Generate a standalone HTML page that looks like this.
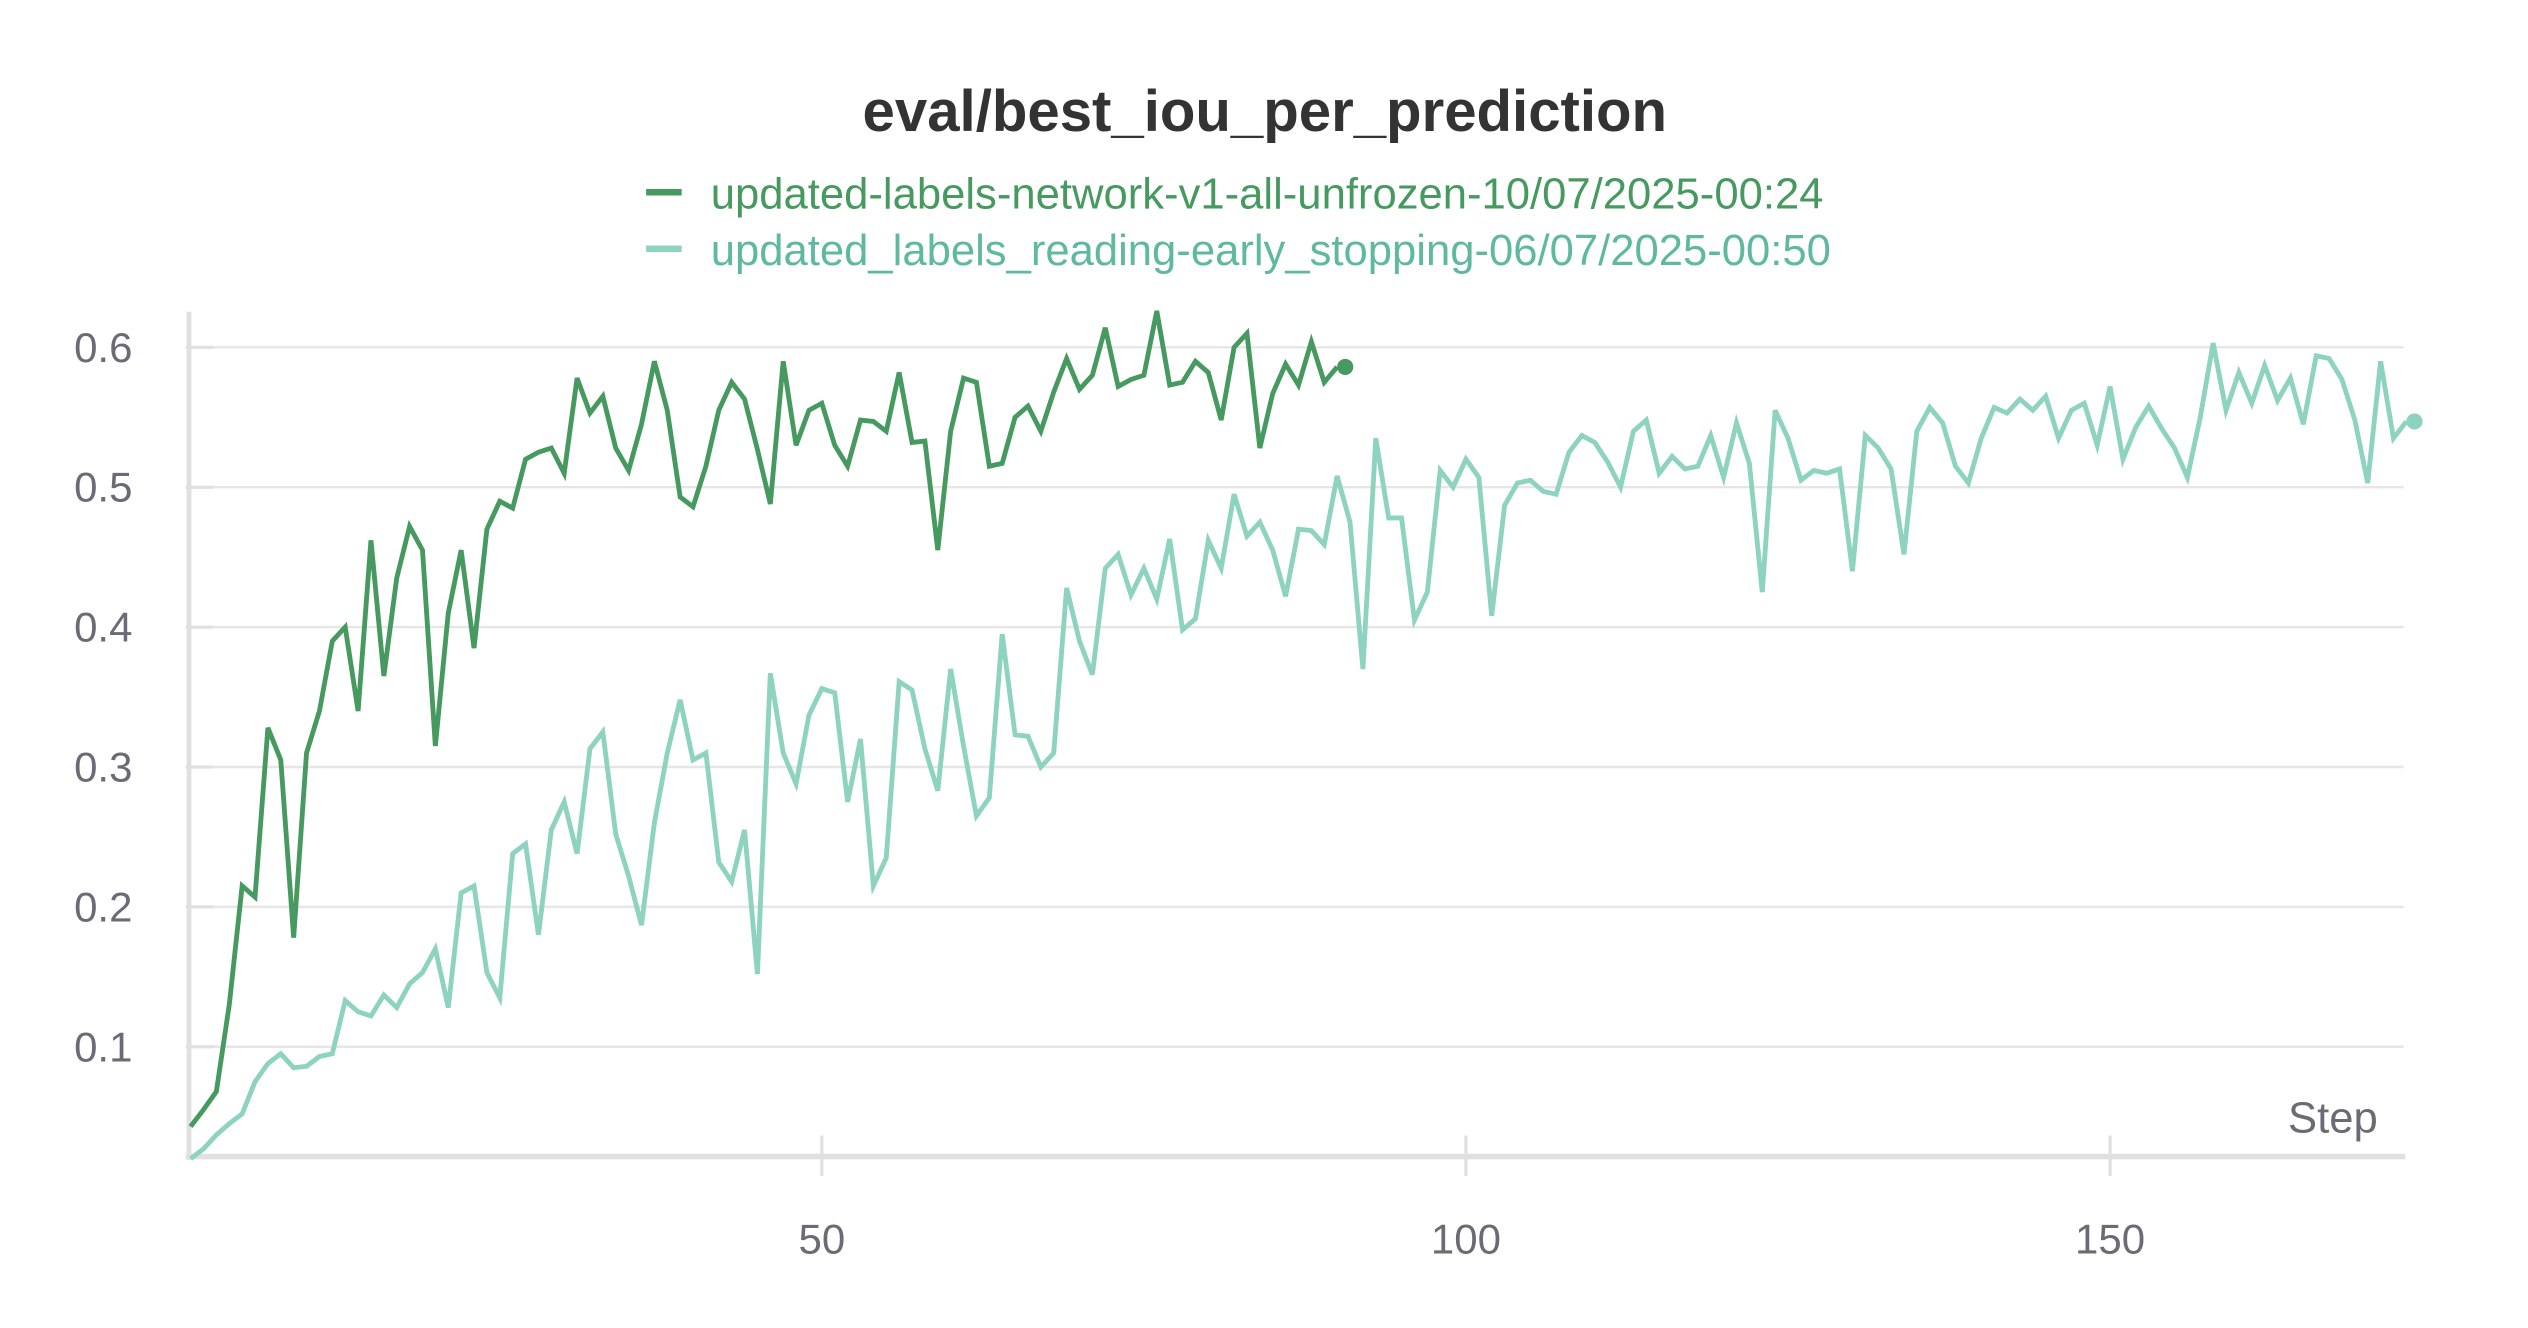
<!DOCTYPE html>
<html><head><meta charset="utf-8"><style>
html,body{margin:0;padding:0;background:#fff}
svg{display:block}
text{font-family:"Liberation Sans","DejaVu Sans",sans-serif}
</style></head><body>
<svg id="chart" width="2528" height="1328" viewBox="0 0 1565 822.1" xmlns="http://www.w3.org/2000/svg">
<text x="783" y="81" text-anchor="middle" font-size="36" font-weight="bold" fill="#333">eval/best_iou_per_prediction</text>
<g>
<g><line x1="400" y1="119" x2="422" y2="119" stroke="#479a5f" stroke-width="4"/><text x="440" y="129" font-size="27" fill="#479a5f">updated-labels-network-v1-all-unfrozen-10/07/2025-00:24</text></g>
<g><line x1="400" y1="154" x2="422" y2="154" stroke="#8dd3c0" stroke-width="4"/><text x="440" y="164" font-size="27" fill="#5fb8a0">updated_labels_reading-early_stopping-06/07/2025-00:50</text></g>
</g>
<g id="grid"></g>
<g id="axes"></g>
<g id="series"></g>
</svg>
<script>
const yTicks=[0.1,0.2,0.3,0.4,0.5,0.6];
const yTickLabels=["0.1","0.2","0.3","0.4","0.5","0.6"];
const xTicks=[50,100,150];
const xTickLabels=["50","100","150"];
const seriesDark=[0.043,0.055,0.068,0.13,0.215,0.207,0.328,0.305,0.178,0.31,0.34,0.39,0.40,0.34,0.462,0.365,0.435,0.472,0.455,0.315,0.41,0.455,0.385,0.47,0.49,0.485,0.52,0.525,0.528,0.51,0.578,0.553,0.565,0.528,0.512,0.545,0.59,0.555,0.493,0.486,0.515,0.555,0.575,0.563,0.527,0.488,0.59,0.53,0.555,0.56,0.53,0.515,0.548,0.547,0.54,0.582,0.532,0.533,0.455,0.54,0.578,0.575,0.515,0.517,0.55,0.558,0.54,0.568,0.592,0.57,0.58,0.614,0.572,0.577,0.58,0.626,0.573,0.575,0.59,0.582,0.548,0.6,0.61,0.528,0.567,0.588,0.573,0.604,0.575,0.586];
const seriesLight=[0.02,0.027,0.037,0.045,0.052,0.075,0.088,0.095,0.085,0.086,0.093,0.095,0.133,0.125,0.122,0.137,0.128,0.145,0.153,0.17,0.128,0.21,0.215,0.153,0.135,0.238,0.245,0.18,0.255,0.275,0.238,0.313,0.325,0.252,0.222,0.187,0.26,0.31,0.348,0.305,0.31,0.232,0.218,0.255,0.152,0.367,0.31,0.288,0.337,0.356,0.353,0.275,0.32,0.215,0.235,0.361,0.355,0.313,0.283,0.37,0.315,0.265,0.278,0.395,0.323,0.322,0.3,0.31,0.428,0.39,0.366,0.442,0.452,0.423,0.442,0.42,0.463,0.398,0.406,0.462,0.442,0.495,0.465,0.475,0.455,0.422,0.47,0.469,0.459,0.508,0.475,0.37,0.535,0.478,0.478,0.405,0.425,0.512,0.5,0.52,0.507,0.408,0.487,0.503,0.505,0.497,0.495,0.525,0.537,0.532,0.518,0.5,0.54,0.548,0.51,0.522,0.513,0.515,0.537,0.507,0.546,0.517,0.425,0.555,0.535,0.505,0.512,0.51,0.513,0.44,0.537,0.528,0.513,0.452,0.54,0.557,0.546,0.515,0.503,0.535,0.557,0.553,0.563,0.555,0.565,0.535,0.555,0.56,0.53,0.572,0.52,0.543,0.558,0.542,0.528,0.507,0.55,0.603,0.555,0.582,0.56,0.587,0.562,0.578,0.545,0.594,0.592,0.577,0.548,0.503,0.59,0.535,0.547];
const NS="http://www.w3.org/2000/svg";
function xs(s){return 118+(s-1)*7.975;}
function ys(v){return 648-(v-0.1)*866;}
function mk(tag,attrs,parent){const e=document.createElementNS(NS,tag);for(const k in attrs)e.setAttribute(k,attrs[k]);parent.appendChild(e);return e;}
const grid=document.getElementById('grid'),axes=document.getElementById('axes'),ser=document.getElementById('series');
yTicks.forEach((t,i)=>{
 const l=mk('line',{x1:115,x2:1488,y1:ys(t),y2:ys(t),stroke:'#e6e6e6','stroke-width':1.5},grid);
 
 
 const tk=mk('line',{x1:115,x2:132,y1:ys(t),y2:ys(t),stroke:'#e0e0e0','stroke-width':2},axes);
 
 
 const tx=mk('text',{x:82,y:ys(t)+9,'text-anchor':'end','font-size':26,fill:'#6b6b76'},axes);
 tx.textContent=yTickLabels[i];
 
 
});
const ya=mk('line',{x1:117,x2:117,y1:193,y2:718,stroke:'#e0e0e0','stroke-width':3},axes);


const xa=mk('line',{x1:115,x2:1489,y1:716,y2:716,stroke:'#e0e0e0','stroke-width':3.5},axes);


xTicks.forEach((t,i)=>{
 const tk=mk('line',{x1:xs(t),x2:xs(t),y1:703,y2:728,stroke:'#e0e0e0','stroke-width':2},axes);
 
 
 const tx=mk('text',{x:xs(t),y:776,'text-anchor':'middle','font-size':26,fill:'#6b6b76'},axes);
 tx.textContent=xTickLabels[i];
 
 
});
const st=mk('text',{x:1472,y:701,'text-anchor':'end','font-size':27,fill:'#6b6b76'},axes);
st.textContent='Step';


function drawSeries(data,color,name){
 const pts=data.map((v,i)=>xs(i+1).toFixed(2)+','+ys(v).toFixed(2)).join(' ');
 const pl=mk('polyline',{points:pts,fill:'none',stroke:color,'stroke-width':3,'stroke-linejoin':'miter'},ser);
 
 
 const n=data.length;
 const c=mk('circle',{cx:xs(n)+5,cy:ys(data[n-1]),r:5,fill:color},ser);
 
 
}
drawSeries(seriesLight,'#8dd3c0','early-stopping');
drawSeries(seriesDark,'#479a5f','network-v1');
</script>
</body></html>
